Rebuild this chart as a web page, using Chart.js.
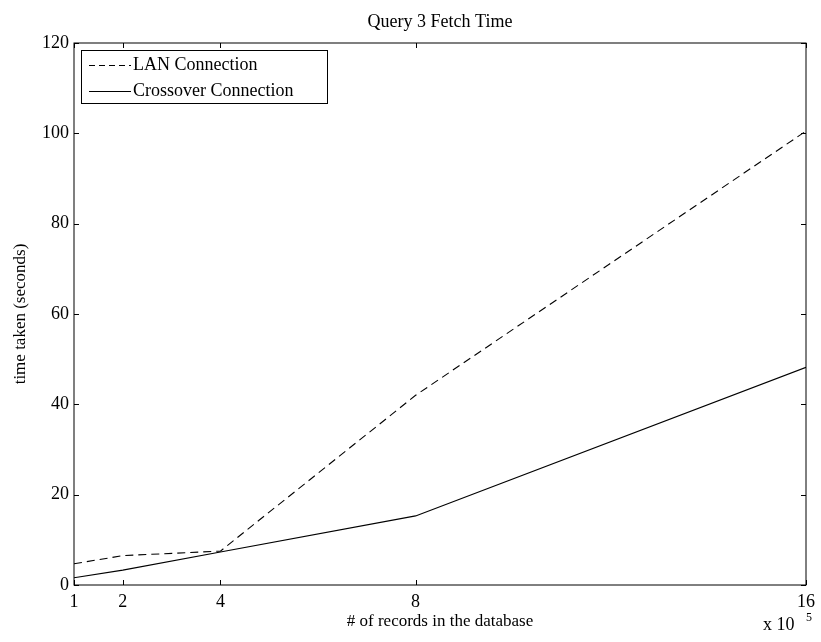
<!DOCTYPE html>
<html>
<head>
<meta charset="utf-8">
<script src="https://cdn.jsdelivr.net/npm/chart.js"></script>
<style>
  html, body { margin: 0; padding: 0; background: #fff; }
  #wrap { width: 821px; height: 642px; }
</style>
</head>
<body>
<div id="wrap"><canvas id="fetchChart" width="821" height="642"></canvas></div>
<script>
    // records in the database (x 10^5) and fetch times in seconds
    const records = [1, 2, 4, 8, 16];
    const lanTimes = [4.7, 6.5, 7.5, 42.0, 100.5];
    const crossoverTimes = [1.6, 3.3, 7.3, 15.3, 48.2];
    const xTicks = [1, 2, 4, 8, 16];
    const yTicks = [0, 20, 40, 60, 80, 100, 120];

    const FONT = 'Liberation Serif';

    // box around the axes, inward ticks on all four sides, title, legend and exponent
    const matlabAxes = {
        id: 'matlabAxes',
        afterDraw(chart) {
            const ctx = chart.ctx;
            const a = chart.chartArea;
            const xs = chart.scales.x, ys = chart.scales.y;
            ctx.save();
            ctx.strokeStyle = '#000';
            ctx.lineWidth = 1;
            ctx.strokeRect(a.left, a.top, a.right - a.left, a.bottom - a.top);
            ctx.beginPath();
            xTicks.forEach(v => {
                const px = Math.round(xs.getPixelForValue(v)) + 0.5;
                ctx.moveTo(px, a.bottom); ctx.lineTo(px, a.bottom - 5);
                ctx.moveTo(px, a.top); ctx.lineTo(px, a.top + 5);
            });
            yTicks.forEach(v => {
                const py = Math.round(ys.getPixelForValue(v)) + 0.5;
                ctx.moveTo(a.left, py); ctx.lineTo(a.left + 5, py);
                ctx.moveTo(a.right, py); ctx.lineTo(a.right - 5, py);
            });
            ctx.stroke();

            // title
            ctx.fillStyle = '#000';
            ctx.font = '18px "' + FONT + '"';
            ctx.textAlign = 'center';
            ctx.textBaseline = 'alphabetic';
            ctx.fillText('Query 3 Fetch Time', (a.left + a.right) / 2, 27);

            // exponent under the last tick
            ctx.font = '18px "' + FONT + '"';
            ctx.textAlign = 'left';
            ctx.fillText('x 10', 763, 630);
            ctx.font = '12px "' + FONT + '"';
            ctx.fillText('5', 806, 621);

            // legend
            const lx = 81, ly = 50, lw = 246, lh = 53;
            ctx.fillStyle = '#fff';
            ctx.fillRect(lx, ly, lw, lh);
            ctx.strokeRect(lx + 0.5, ly + 0.5, lw, lh);
            const rows = [
                { text: 'LAN Connection', dash: [6, 4], y: 65 },
                { text: 'Crossover Connection', dash: [], y: 91 }
            ];
            ctx.font = '18px "' + FONT + '"';
            ctx.textBaseline = 'middle';
            rows.forEach(r => {
                ctx.beginPath();
                ctx.setLineDash(r.dash);
                ctx.moveTo(89, r.y + 0.5);
                ctx.lineTo(131, r.y + 0.5);
                ctx.stroke();
                ctx.setLineDash([]);
                ctx.fillStyle = '#000';
                ctx.fillText(r.text, 133, r.y);
            });
            ctx.restore();
        }
    };

    const canvas = document.getElementById('fetchChart');
    new Chart(canvas.getContext('2d'), {
        type: 'line',
        data: {
            datasets: [
                {
                    label: 'LAN Connection',
                    data: records.map((r, i) => ({ x: r, y: lanTimes[i] })),
                    borderColor: '#000',
                    borderWidth: 1.1,
                    borderDash: [8, 5],
                    pointRadius: 0,
                    tension: 0,
                    fill: false
                },
                {
                    label: 'Crossover Connection',
                    data: records.map((r, i) => ({ x: r, y: crossoverTimes[i] })),
                    borderColor: '#000',
                    borderWidth: 1.1,
                    pointRadius: 0,
                    tension: 0,
                    fill: false
                }
            ]
        },
        options: {
            responsive: false,
            animation: false,
            layout: { padding: { top: 43, right: 14, left: 0, bottom: 0 } },
            plugins: {
                legend: { display: false },
                title: { display: false },
                tooltip: { enabled: false }
            },
            scales: {
                x: {
                    type: 'linear',
                    min: 1,
                    max: 16,
                    afterBuildTicks: s => { s.ticks = xTicks.map(v => ({ value: v })); },
                    afterFit: s => { s.height = 57; },
                    grid: { display: false, drawTicks: false },
                    border: { display: false },
                    ticks: {
                        color: '#000',
                        font: { family: FONT, size: 18 },
                        padding: 6,
                        maxRotation: 0,
                        autoSkip: false
                    },
                    title: {
                        display: true,
                        text: '# of records in the database',
                        color: '#000',
                        font: { family: FONT, size: 17 },
                        padding: { top: 0, bottom: 10 }
                    }
                },
                y: {
                    min: 0,
                    max: 120,
                    afterBuildTicks: s => { s.ticks = yTicks.map(v => ({ value: v })); },
                    afterFit: s => { s.width = 74; },
                    grid: { display: false, drawTicks: false },
                    border: { display: false },
                    ticks: {
                        color: '#000',
                        font: { family: FONT, size: 18 },
                        padding: 5
                    },
                    title: {
                        display: true,
                        text: 'time taken (seconds)',
                        color: '#000',
                        font: { family: FONT, size: 17 },
                        padding: { top: 10, bottom: 0 }
                    }
                }
            }
        },
        plugins: [matlabAxes]
    });
</script>
</body>
</html>
